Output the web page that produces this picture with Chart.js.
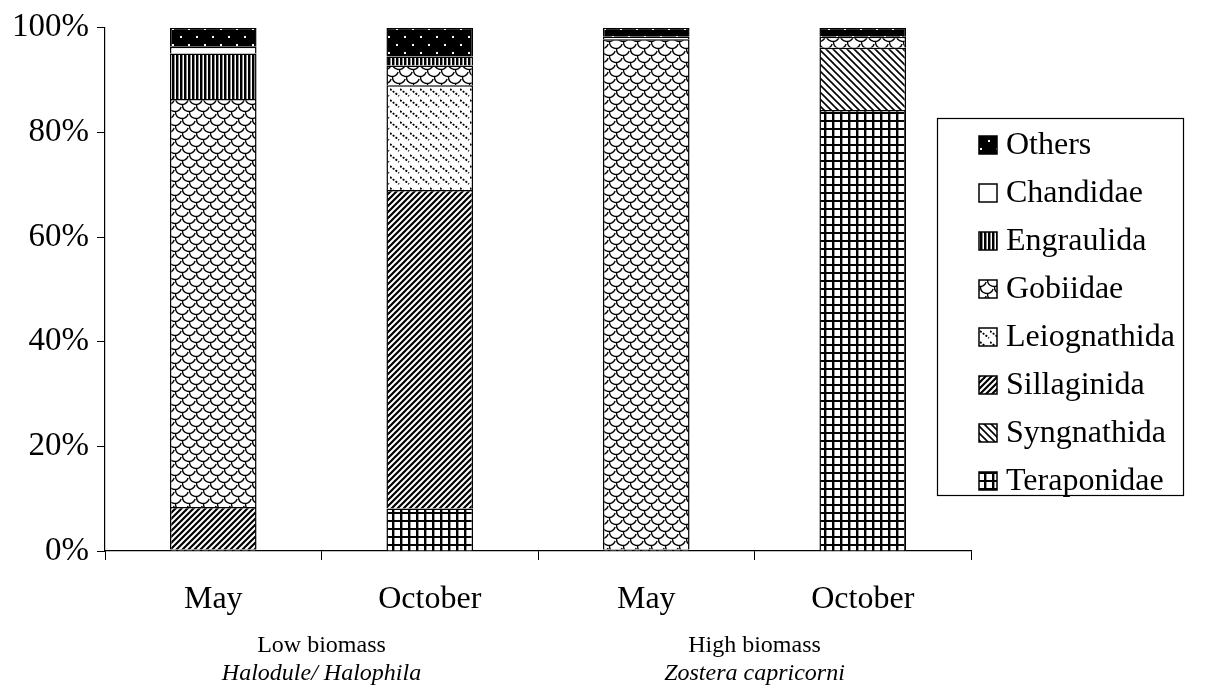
<!DOCTYPE html>
<html lang="en">
<head>
<meta charset="UTF-8">
<title>Fish families by biomass and month</title>
<script src="https://cdn.jsdelivr.net/npm/chart.js"></script>
<style>
    body { margin: 0; background: #fff; }
    canvas { display: block; }
</style>
</head>
<body>
<canvas id="barChart" width="1213" height="690"></canvas>
<script>
// data (percent of each bar)
const months = ['May', 'October', 'May', 'October'];
const groupNames = ['Low biomass', 'High biomass'];
const groupPlants = ['Halodule/ Halophila', 'Zostera capricorni'];
const yTicks = [0, 20, 40, 60, 80, 100];

const teraponidae  = [0.3,  8.1, 0.3, 84.3];
const syngnathida  = [0,    0,   0,   11.9];
const sillaginida  = [8.1, 60.9, 0,    0];
const leiognathida = [0,   20.0, 0,    0];
const gobiidae     = [78.0, 3.8, 97.5, 2.1];
const engraulida   = [8.7,  1.7, 0,    0];
const chandidae    = [1.3,  0,   0.5,  0];
const others       = [3.6,  5.5, 1.7,  1.7];

const serif = '"Liberation Serif", "Times New Roman", serif';

function makePattern(w, h, draw) {
    const c = document.createElement('canvas');
    c.width = w; c.height = h;
    const g = c.getContext('2d');
    g.fillStyle = '#fff';
    g.fillRect(0, 0, w, h);
    g.strokeStyle = '#000';
    g.fillStyle = '#000';
    draw(g, w, h);
    return document.getElementById('barChart').getContext('2d').createPattern(c, 'repeat');
}

const pat = {
    grid: makePattern(8, 8, g => {
        g.fillRect(0, 0, 8, 2);
        g.fillRect(0, 0, 2, 8);
        g.fillStyle = '#999';
        g.fillRect(2, 2, 1, 6);
    }),
    fwd: makePattern(6, 6, g => {
        g.lineWidth = 2.2;
        g.beginPath();
        g.moveTo(-1, 7); g.lineTo(7, -1);
        g.moveTo(-4, 4); g.lineTo(4, -4);
        g.moveTo(2, 10); g.lineTo(10, 2);
        g.stroke();
    }),
    back: makePattern(7, 7, g => {
        g.lineWidth = 1.6;
        g.beginPath();
        g.moveTo(-1, -1); g.lineTo(8, 8);
        g.moveTo(-4, 3); g.lineTo(4, 11);
        g.moveTo(3, -4); g.lineTo(11, 4);
        g.stroke();
    }),
    dash: makePattern(10, 11, g => {
        g.lineWidth = 1.8;
        g.setLineDash([2, 1.5]);
        g.beginPath();
        g.moveTo(0, 1); g.lineTo(9, 8);
        g.stroke();
    }),
    // tilted fish scales
    scales: makePattern(14, 14, g => {
        g.lineWidth = 1.4;
        [[0, 0], [14, 0], [0, 14], [14, 14], [7, 7]].forEach(([cx, cy]) => {
            g.beginPath();
            g.arc(cx, cy, 6.5, Math.PI * 0.1, Math.PI * 1.0);
            g.stroke();
        });
    }),
    vert: makePattern(4, 4, g => {
        g.fillRect(0, 0, 2, 4);
        g.fillStyle = '#888';
        g.fillRect(2, 0, 1, 4);
    }),
    white: '#ffffff',
    dots: makePattern(16, 16, g => {
        g.fillRect(0, 0, 16, 16);
        g.fillStyle = '#fff';
        g.fillRect(4, 4, 2, 2);
        g.fillRect(12, 12, 2, 2);
    })
};

// bottom of the stack first; the legend lists them the other way round
const seriesList = [
    { label: 'Teraponidae', data: teraponidae, fill: pat.grid },
    { label: 'Syngnathida', data: syngnathida, fill: pat.back },
    { label: 'Sillaginida', data: sillaginida, fill: pat.fwd },
    { label: 'Leiognathida', data: leiognathida, fill: pat.dash },
    { label: 'Gobiidae', data: gobiidae, fill: pat.scales },
    { label: 'Engraulida', data: engraulida, fill: pat.vert },
    { label: 'Chandidae', data: chandidae, fill: pat.white },
    { label: 'Others', data: others, fill: pat.dots }
];

// legend box and group labels under the axis
const extras = {
    id: 'extras',
    afterDraw(chart) {
        const ctx = chart.ctx;
        const x = chart.scales.x;
        ctx.save();
        ctx.fillStyle = '#000';
        ctx.textAlign = 'center';
        ctx.textBaseline = 'alphabetic';
        for (let i = 0; i < groupNames.length; i++) {
            const cx = (x.getPixelForValue(i * 2) + x.getPixelForValue(i * 2 + 1)) / 2;
            ctx.font = '24px ' + serif;
            ctx.fillText(groupNames[i], cx, 652);
            ctx.font = 'italic 24px ' + serif;
            ctx.fillText(groupPlants[i], cx, 680);
        }

        // legend
        const bx = 937, by = 118, bw = 246, bh = 377;
        ctx.lineWidth = 1.2;
        ctx.strokeStyle = '#000';
        ctx.strokeRect(bx + 0.5, by + 0.5, bw, bh);
        ctx.textAlign = 'left';
        ctx.textBaseline = 'middle';
        ctx.font = '32px ' + serif;
        const items = chart.data.datasets.slice().reverse();
        items.forEach((ds, i) => {
            const cy = 145 + i * 48;
            ctx.fillStyle = ds.backgroundColor;
            ctx.fillRect(979, cy - 9, 18, 18);
            ctx.lineWidth = 1.5;
            ctx.strokeRect(979, cy - 9, 18, 18);
            ctx.fillStyle = '#000';
            ctx.fillText(ds.label, 1006, cy + 1);
        });
        ctx.restore();
    }
};

new Chart(document.getElementById('barChart'), {
    type: 'bar',
    data: {
        labels: months,
        datasets: seriesList.map(s => ({
            label: s.label,
            data: s.data,
            backgroundColor: s.fill,
            borderColor: '#000',
            borderWidth: 1.5,
            barPercentage: 0.4,
            categoryPercentage: 1.0
        }))
    },
    options: {
        responsive: false,
        animation: false,
        layout: { padding: { top: 22, right: 242, left: 0, bottom: 0 } },
        plugins: {
            legend: { display: false },
            tooltip: { enabled: false }
        },
        scales: {
            x: {
                stacked: true,
                grid: { offset: true, drawOnChartArea: false, tickLength: 9, color: '#000', lineWidth: 1 },
                border: { color: '#000', width: 1.2 },
                ticks: { color: '#000', font: { family: serif, size: 32 }, padding: 20 },
                afterFit(s) { s.height = 139; }
            },
            y: {
                stacked: true,
                min: 0,
                max: 100,
                afterBuildTicks(s) { s.ticks = yTicks.map(v => ({ value: v })); },
                grid: { drawOnChartArea: false, tickLength: 8, color: '#000', lineWidth: 1 },
                border: { color: '#000', width: 1.2 },
                ticks: { color: '#000', font: { family: serif, size: 33 }, padding: 8, callback: v => v + '%' },
                afterFit(s) { s.width = 105; }
            }
        }
    },
    plugins: [extras]
});
</script>
</body>
</html>
